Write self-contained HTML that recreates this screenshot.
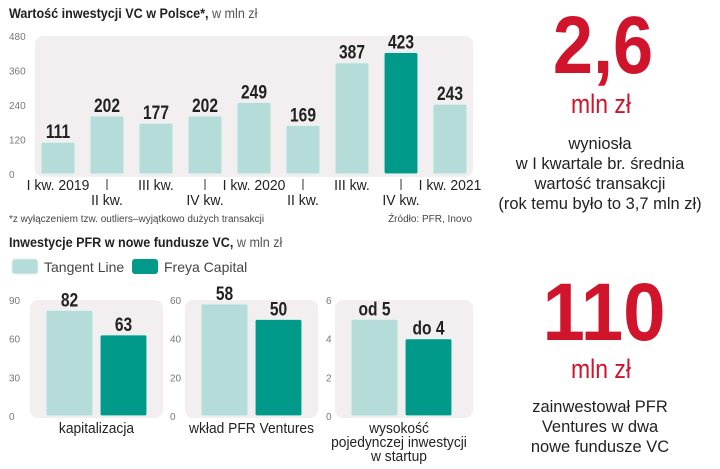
<!DOCTYPE html>
<html><head><meta charset="utf-8"><style>
body{margin:0;background:#fff;}
svg{display:block;font-family:"Liberation Sans",sans-serif;}
</style></head><body>
<svg id="s" width="720" height="469" viewBox="0 0 720 469">
<text x="9" y="18" font-size="14" font-weight="bold" fill="#222" transform="translate(9 0) scale(0.9 1) translate(-9 0)">Wartość inwestycji VC w Polsce*,<tspan font-weight="normal" fill="#555"> w mln zł</tspan></text>
<rect x="35" y="36" width="438" height="141" rx="8" fill="#f3eff1"/>
<g id="topg"></g>
<text x="9" y="222" font-size="10" fill="#444">*z wyłączeniem tzw. outliers–wyjątkowo dużych transakcji</text>
<text x="472" y="222" font-size="10" fill="#444" text-anchor="end">Źródło: PFR, Inovo</text>
<text x="9" y="247" font-size="14" font-weight="bold" fill="#222" transform="translate(9 0) scale(0.9 1) translate(-9 0)">Inwestycje PFR w nowe fundusze VC,<tspan font-weight="normal" fill="#555"> w mln zł</tspan></text>
<rect x="12" y="259" width="26" height="15" rx="3" fill="#b5dcd8" stroke="#dff0ee"/>
<text x="44" y="272" font-size="14" fill="#444">Tangent Line</text>
<rect x="132" y="259" width="26" height="15" rx="3" fill="#00998a"/>
<text x="164" y="272" font-size="14" fill="#444">Freya Capital</text>
<g id="botg"></g>
<g fill="#d0142c" text-anchor="middle">
<text x="603" y="73" font-size="82" font-weight="bold" transform="translate(603 0) scale(0.88 1) translate(-603 0)">2,6</text>
<text x="601" y="113" font-size="27" transform="translate(601 0) scale(0.85 1) translate(-601 0)">mln zł</text>
<text x="604" y="340" font-size="82" font-weight="bold" transform="translate(604 0) scale(0.93 1) translate(-604 0)">110</text>
<text x="601" y="378" font-size="27" transform="translate(601 0) scale(0.85 1) translate(-601 0)">mln zł</text>
</g>
<g fill="#222" text-anchor="middle" font-size="17" transform="translate(600 0) scale(0.97 1) translate(-600 0)">
<text x="600" y="149">wyniosła</text>
<text x="600" y="169">w I kwartale br. średnia</text>
<text x="600" y="189">wartość transakcji</text>
<text x="600" y="209">(rok temu było to 3,7 mln zł)</text>
<text x="600" y="412">zainwestował PFR</text>
<text x="600" y="432">Ventures w dwa</text>
<text x="600" y="452">nowe fundusze VC</text>
</g>
</svg>
<script>
const quarters=["I kw. 2019","II kw.","III kw.","IV kw.","I kw. 2020","II kw.","III kw.","IV kw.","I kw. 2021"];
const vcValues=[111,202,177,202,249,169,387,423,243];
const topTicks=[0,120,240,360,480];
const groups=["kapitalizacja","wkład PFR Ventures","wysokość|pojedynczej inwestycji|w startup"];
const tangentValues=[82,58,5];
const freyaValues=[63,50,4];
const valueLabelsT=["82","58","od 5"];
const valueLabelsF=["63","50","do 4"];
const groupMax=[90,60,6];
const groupTicks=[[0,30,60,90],[0,20,40,60],[0,2,4,6]];

const NS="http://www.w3.org/2000/svg";
function mk(p,tag,a,txt){const e=document.createElementNS(NS,tag);for(const k in a)e.setAttribute(k,a[k]);if(txt!==undefined)e.textContent=txt;p.appendChild(e);return e;}
const topG=document.getElementById('topg');
const y0=174,yTop=36;
const yS=v=>y0-(v/480)*(y0-yTop);
const xS=i=>58+i*49;
topTicks.forEach(t=>{
 const e=mk(topG,'text',{x:9,y:yS(t)+4,'font-size':10,fill:'#777'},String(t));
 
 
});
vcValues.forEach((v,i)=>{
 const b=mk(topG,'rect',{x:xS(i)-17,y:yS(v),width:34,height:y0-yS(v),rx:2,fill:i===7?'#00998a':'#b5dcd8',stroke:i===7?'#dff0ee':'#e3f2f0','stroke-width':1.2});
 
 
 const l=mk(topG,'text',{x:xS(i),y:yS(v)-4,'font-size':19,'font-weight':'bold','text-anchor':'middle',fill:'#222',transform:`translate(${xS(i)} 0) scale(0.82 1) translate(${-xS(i)} 0)`},String(v));
 
 
 const row2=i%2===1;
 if(row2){const t=mk(topG,'line',{x1:xS(i),x2:xS(i),y1:179,y2:190,stroke:'#333'});}
 const xl=mk(topG,'text',{x:xS(i),y:row2?205:190,'font-size':15,'text-anchor':'middle',fill:'#222',transform:`translate(${xS(i)} 0) scale(0.93 1) translate(${-xS(i)} 0)`},quarters[i]);
 
 
});
const botG=document.getElementById('botg');
const panels=[{x:30,w:133,tx:9},{x:185,w:133,tx:170},{x:335,w:138,tx:326}];
const by0=416,byTop=300;
groups.forEach((g,i)=>{
 const p=panels[i];
 const r=mk(botG,'rect',{x:p.x,y:300,width:p.w,height:118,rx:8,fill:'#f3eff1'});
 
 
 const ys=v=>by0-(v/groupMax[i])*(by0-byTop);
 groupTicks[i].forEach(t=>{
  const e=mk(botG,'text',{x:p.tx,y:ys(t)+4,'font-size':10,fill:'#777'},String(t));
  
  
 });
 const bw=47;
 const x1=p.x+16,x2=p.x+16+bw+7;
 [[tangentValues[i],x1,'#b5dcd8',valueLabelsT[i],'tangent'],[freyaValues[i],x2,'#00998a',valueLabelsF[i],'freya']].forEach(([v,x,c,lab,nm])=>{
  const b=mk(botG,'rect',{x:x,y:ys(v),width:bw,height:by0-ys(v),rx:2,fill:c,stroke:'#e3f2f0','stroke-width':1.2});
  
  
  const cx=x+bw/2;
  const l=mk(botG,'text',{x:cx,y:ys(v)-4,'font-size':19,'font-weight':'bold','text-anchor':'middle',fill:'#222',transform:`translate(${cx} 0) scale(0.82 1) translate(${-cx} 0)`},lab);
  
  
 });
 g.split('|').forEach((line,j)=>{
  const cx=p.x+p.w/2+(i===2?-5:0);
  const t=mk(botG,'text',{x:cx,y:433+j*14,'font-size':15,'text-anchor':'middle',fill:'#222',transform:`translate(${cx} 0) scale(0.92 1) translate(${-cx} 0)`},line);
  
  
 });
});
</script>
</body></html>
